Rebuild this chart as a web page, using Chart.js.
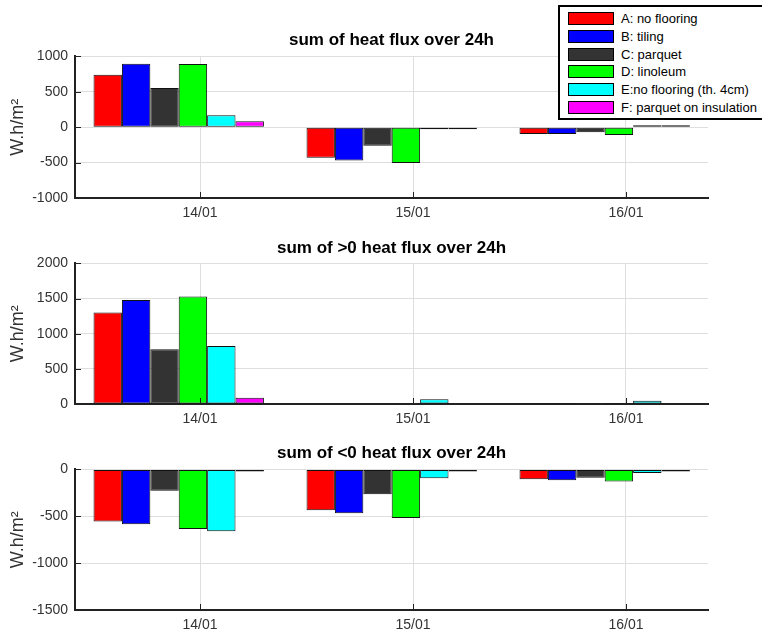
<!DOCTYPE html>
<html>
<head>
<meta charset="utf-8">
<script src="https://cdn.jsdelivr.net/npm/chart.js@4/dist/chart.umd.min.js"></script>
<style>
  body { margin: 0; width: 762px; height: 633px; overflow: hidden; background: #fff; font-family: "Liberation Sans", Arial, sans-serif; }
  canvas { position: absolute; left: 0; }
  #legend { position: absolute; left: 558px; top: 5px; width: 230px; border: 2px solid #000; background: #fff; padding: 3px 0 2px 0; }
  #legend .row { height: 17.7px; display: flex; align-items: center; font-size: 13px; color: #000; white-space: nowrap; }
  #legend .sw { width: 44px; height: 11px; border: 1px solid #000; margin: 0 7px 0 8px; flex: none; }
</style>
</head>
<body>
<canvas id="c1" width="762" height="222" style="top:0px"></canvas>
<canvas id="c2" width="762" height="206" style="top:222px"></canvas>
<canvas id="c3" width="762" height="206" style="top:428px"></canvas>
<div id="legend"></div>
<script>
const dates = ["14/01", "15/01", "16/01"];
const seriesNames = ["A: no flooring", "B: tiling", "C: parquet", "D: linoleum", "E:no flooring (th. 4cm)", "F: parquet on insulation"];
const seriesColors = ["#ff0000", "#0000ff", "#333333", "#00ff00", "#00ffff", "#ff00ff"];

// sum of heat flux over 24h (one row per series, one value per day)
const netFlux = [
  [740, -433, -95],
  [895, -470, -95],
  [552, -262, -72],
  [893, -505, -110],
  [168, -14, 18],
  [85, -5, 5]
];
// sum of >0 heat flux over 24h
const posFlux = [
  [1300, 0, 15],
  [1480, 0, 15],
  [778, 0, 0],
  [1530, 0, 15],
  [825, 66, 45],
  [90, 0, 0]
];
// sum of <0 heat flux over 24h
const negFlux = [
  [-557, -435, -105],
  [-585, -468, -115],
  [-227, -265, -88],
  [-635, -518, -128],
  [-660, -94, -38],
  [-8, -6, -8]
];

const barShift = -0.1;

const innerTicks = {
  id: "innerTicks",
  afterDraw(chart) {
    const ctx = chart.ctx, a = chart.chartArea;
    ctx.save();
    ctx.strokeStyle = "#222";
    ctx.lineWidth = 1;
    chart.scales.y.ticks.forEach(t => {
      const y = Math.round(chart.scales.y.getPixelForValue(t.value)) + 0.5;
      ctx.beginPath(); ctx.moveTo(a.left, y); ctx.lineTo(a.left + 6, y); ctx.stroke();
    });
    chart.scales.x.ticks.forEach(t => {
      const x = Math.round(chart.scales.x.getPixelForValue(t.value)) + 0.5;
      ctx.beginPath(); ctx.moveTo(x, a.bottom); ctx.lineTo(x, a.bottom - 6); ctx.stroke();
    });
    ctx.restore();
  }
};

function makeChart(id, title, values, yMin, yMax, titlePad, minLen) {
  const datasets = values.map((row, s) => ({
    label: seriesNames[s],
    data: row.map((v, i) => ({ x: i + 1 + barShift, y: v })),
    backgroundColor: seriesColors[s],
    borderColor: "#111",
    borderWidth: 1,
    borderSkipped: false,
    minBarLength: minLen,
    categoryPercentage: 0.8,
    barPercentage: 1.0
  }));
  return new Chart(document.getElementById(id), {
    type: "bar",
    data: { datasets },
    options: {
      responsive: false,
      animation: false,
      layout: { padding: { left: 0, right: 54, top: 0, bottom: 0 } },
      plugins: {
        legend: { display: false },
        tooltip: { enabled: false },
        title: {
          display: true,
          text: title,
          fullSize: false,
          color: "#000",
          font: { family: "Liberation Sans", size: 17, weight: "bold" },
          padding: titlePad
        }
      },
      scales: {
        x: {
          type: "linear",
          offset: false,
          min: 0.413,
          max: 3.385,
          afterBuildTicks: s => { s.ticks = dates.map((d, i) => ({ value: i + 1 })); },
          afterFit: s => { s.height = 24; },
          ticks: {
            padding: 7,
            color: "#333",
            font: { family: "Liberation Sans", size: 14 },
            callback: (v) => dates[Math.round(v) - 1]
          },
          grid: { offset: false, drawTicks: false, color: "#dedede" },
          border: { color: "#222", width: 2 }
        },
        y: {
          min: yMin,
          max: yMax,
          afterFit: s => { s.width = 75; },
          ticks: {
            stepSize: 500,
            padding: 7,
            color: "#333",
            font: { family: "Liberation Sans", size: 14 },
            callback: (v) => String(v)
          },
          grid: { drawTicks: false, color: "#dedede" },
          border: { color: "#222", width: 2 },
          title: {
            display: true,
            text: "W.h/m²",
            color: "#333",
            font: { family: "Liberation Sans", size: 18 },
            padding: { top: 7, bottom: 0 }
          }
        }
      }
    },
    plugins: [innerTicks]
  });
}

makeChart("c1", "sum of heat flux over 24h", netFlux, -1000, 1000, { top: 30, bottom: 6 }, 2);
makeChart("c2", "sum of >0 heat flux over 24h", posFlux, 0, 2000, { top: 16, bottom: 5 }, 0);
makeChart("c3", "sum of <0 heat flux over 24h", negFlux, -1500, 0, { top: 15, bottom: 6 }, 2);

const legend = document.getElementById("legend");
seriesNames.forEach((name, s) => {
  const row = document.createElement("div");
  row.className = "row";
  row.innerHTML = `<div class="sw" style="background:${seriesColors[s]}"></div><span>${name}</span>`;
  legend.appendChild(row);
});
</script>
</body>
</html>
